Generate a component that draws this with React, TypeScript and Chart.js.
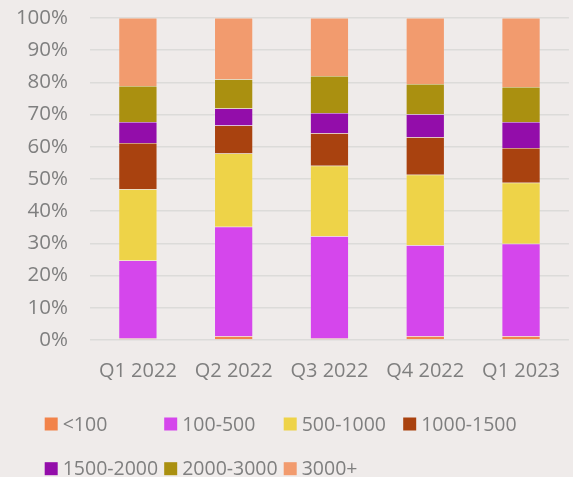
import React, { useEffect, useRef } from "react";
import { Chart, registerables } from "chart.js";

Chart.register(...registerables);

const categories = ["Q1 2022", "Q2 2022", "Q3 2022", "Q4 2022", "Q1 2023"];
const seriesNames = ["<100", "100-500", "500-1000", "1000-1500", "1500-2000", "2000-3000", "3000+"];
const lt100 = [0.5, 1.2, 0.5, 1.2, 1.2];
const s100_500 = [24.2, 34.0, 31.7, 28.2, 28.7];
const s500_1000 = [22.1, 22.7, 21.9, 21.9, 18.9];
const s1000_1500 = [14.4, 8.7, 10.1, 11.7, 10.8];
const s1500_2000 = [6.5, 5.3, 6.3, 7.1, 8.1];
const s2000_3000 = [11.2, 9.1, 11.5, 9.4, 10.9];
const s3000plus = [21.1, 19.0, 18.0, 20.5, 21.4];
const yTicks = [0, 10, 20, 30, 40, 50, 60, 70, 80, 90, 100];

const seriesValues = [lt100, s100_500, s500_1000, s1000_1500, s1500_2000, s2000_3000, s3000plus];
const colors = ["#F2834A", "#D546EC", "#EED348", "#A9420F", "#930DAA", "#AA9010", "#F29B6E"];

const BG = "#EFEBEA";
const TEXT = "#7F7F7F";
const FONT = "'Open Sans', sans-serif";

const gridLegend = {
  id: "gridLegend",
  afterDraw(chart: any) {
    const ctx = chart.ctx;
    const ds = chart.data.datasets;
    ctx.save();
    ctx.font = `19.5px ${FONT}`;
    ctx.textBaseline = "middle";
    ctx.textAlign = "left";
    ds.forEach((d: any, i: number) => {
      const col = i % 4;
      const row = Math.floor(i / 4);
      const x = 44.7 + col * 119.5;
      const y = 424 + row * 44.7;
      ctx.fillStyle = d.backgroundColor;
      ctx.fillRect(x, y - 6.5, 13, 13);
      ctx.fillStyle = TEXT;
      ctx.fillText(d.label, x + 18, y + 1);
    });
    ctx.restore();
  },
};

export default function App() {
  const ref = useRef<HTMLCanvasElement>(null);
  useEffect(() => {
    if (!ref.current) return;
    const chart = new Chart(ref.current, {
      type: "bar",
      data: {
        labels: categories,
        datasets: seriesNames.map((name, i) => ({
          label: name,
          data: seriesValues[i],
          backgroundColor: colors[i],
          borderColor: "rgba(255,255,255,0.25)",
          borderWidth: 0.5,
          barPercentage: 0.4,
          categoryPercentage: 1,
        })),
      },
      options: {
        responsive: false,
        animation: false,
        devicePixelRatio: 1,
        layout: { padding: { top: 18, bottom: 75, left: 0, right: 0 } },
        plugins: {
          legend: { display: false },
          tooltip: { enabled: false },
        },
        scales: {
          x: {
            stacked: true,
            grid: { display: false, drawTicks: false },
            border: { display: false },
            ticks: { color: TEXT, font: { family: FONT, size: 20 }, padding: 19 },
          },
          y: {
            stacked: true,
            min: 0,
            max: 100,
            afterBuildTicks: (scale: any) => {
              scale.ticks = yTicks.map((v) => ({ value: v }));
            },
            afterFit: (scale: any) => {
              scale.width = 90;
              scale.paddingTop = 0;
              scale.paddingBottom = 0;
            },
            grid: { color: "#DCDBD9", lineWidth: 1.5, drawTicks: false },
            border: { display: false },
            ticks: {
              color: TEXT,
              font: { family: FONT, size: 20.5 },
              padding: 22,
              callback: (v: any) => `${v}%`,
            },
          },
        },
      },
      plugins: [gridLegend],
    });
    return () => chart.destroy();
  }, []);
  return (
    <div style={{ position: "fixed", left: 0, top: 0, width: 573, height: 477, overflow: "hidden", background: BG }}>
      <canvas ref={ref} width={579} height={477} />
    </div>
  );
}
